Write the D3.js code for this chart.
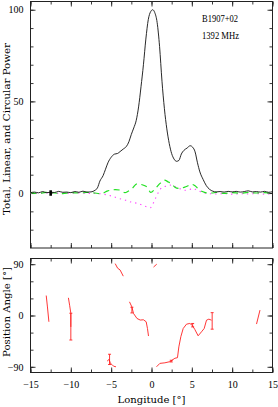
<!DOCTYPE html>
<html><head><meta charset="utf-8">
<script src="https://cdn.jsdelivr.net/npm/d3@7"></script>
<style>body{margin:0;background:#fff}svg{display:block}</style>
</head><body>
<script>
// ---- data ----
const pulsarName = "B1907+02";
const frequencyLabel = "1392 MHz";
const xLabel = "Longitude [°]";
const yLabelTop = "Total, Linear, and Circular Power";
const yLabelBottom = "Position Angle [°]";
const xTicks = [-15, -10, -5, 0, 5, 10, 15];
const yTicksTop = [0, 50, 100];
const yTicksBottom = [-90, 0, 90];

// total intensity [longitude, value]
const totalI = [[-15,0.2],[-14.5,0.5],[-14,0.1],[-13.5,0.8],[-13,0.2],[-12.5,0.4],[-12,0.3],[-11.5,0.9],[-11,0.4],[-10.5,0.5],[-10,0.2],[-9.5,0.8],[-9,0.4],[-8.5,1.0],[-8,0.5],[-7.5,0.6],[-7,1.5],[-6.7,2.8],[-6.4,6.5],[-6,9.5],[-5.7,13],[-5.4,16.5],[-5,19.5],[-4.6,21.2],[-4.2,21.6],[-3.9,22.6],[-3.5,24],[-3.1,25.5],[-2.8,28],[-2.5,32],[-2.2,35.5],[-1.9,39.5],[-1.6,47],[-1.3,58],[-1,70],[-0.7,84],[-0.4,94.6],[-0.1,99],[0.15,100],[0.4,98.5],[0.7,93],[1,80],[1.3,61],[1.6,46],[1.9,35],[2.2,27],[2.5,21.5],[2.8,18.5],[3.1,17.3],[3.4,17.8],[3.7,21.3],[4,23.2],[4.4,24.5],[4.8,25.8],[5.1,25],[5.4,22.5],[5.7,16.5],[6,11.5],[6.4,7.4],[6.8,4.0],[7.2,2.0],[7.6,1.0],[8,0.6],[8.5,0.8],[9,0.5],[9.5,0.9],[10,0.6],[10.5,0.9],[11,0.5],[11.5,0.8],[12,1.2],[12.5,0.6],[13,0.8],[13.5,0.5],[14,0.9],[14.5,0.4],[15,0.7]];

// linear polarization
const linearL = [[-15,0.2],[-14,-0.2],[-13,0.3],[-12,0],[-11,-0.3],[-10,0.2],[-9,0],[-8,0.3],[-7,0],[-6.5,-0.3],[-6,0],[-5.5,1.0],[-5,1.6],[-4.5,1.8],[-3.9,1.6],[-3.3,0.2],[-2.9,1.0],[-2.4,2.5],[-1.8,5.0],[-1.4,4.8],[-0.9,4.1],[-0.5,3.0],[-0.1,0.3],[0.5,2.6],[1.1,5.4],[1.6,7.0],[2.1,6.0],[2.5,5.0],[2.9,3.2],[3.4,2.5],[3.9,2.9],[4.4,3.7],[5,4.7],[5.4,4.0],[5.8,2.2],[6.3,0.8],[6.8,0.1],[7.5,0],[8,0.3],[9,-0.2],[10,0.2],[11,-0.1],[12,0.3],[13,0],[14,0.2],[15,-0.2]];

// circular polarization
const circularV = [[-15,0],[-14,-0.2],[-13,0.1],[-12,-0.3],[-11,0],[-10,-0.2],[-9,0.1],[-8,-0.3],[-7,-0.2],[-6,-0.6],[-5,-1.6],[-4.3,-2.6],[-3.7,-3.4],[-3,-4.2],[-2.4,-5.1],[-1.8,-5.6],[-1.2,-6.5],[-0.6,-7.5],[-0.15,-8.0],[0.25,-5.3],[0.5,-2.9],[0.9,0.7],[1.3,3.1],[1.9,3.8],[2.5,4.4],[2.9,3.5],[3.5,2.4],[4.1,1.5],[4.6,1.8],[5.2,2.5],[5.6,1.6],[6,0.9],[6.5,0.2],[7,-0.3],[8,-0.5],[9,-0.3],[10,-0.6],[11,-0.4],[12,-0.5],[13,-0.3],[14,-0.6],[15,-0.4]];

// off-pulse error bar [longitude, value, half-height]
const offPulseErr = [[-12.5, 0, 1.5]];

// position angle segments
const paSegments = [
  [[-13.05,35],[-12.9,15],[-12.72,-11]],
  [[-10.3,31],[-10.15,18],[-10.0,4],[-10.0,-20]],
  [[-5.5,-80],[-5.25,-77],[-5.1,-84],[-4.9,-86],[-4.7,-89],[-4.4,-90]],
  [[-4.5,91],[-4.2,83],[-3.9,80],[-3.5,69]],
  [[-2.73,24],[-2.43,15],[-2.23,3.6],[-1.8,-5.2],[-1.4,-8],[-1.0,-7.5],[-0.66,-11],[-0.5,-22.7],[-0.37,-36]],
  [[0.25,85],[0.65,90]],
  [[0.62,-90],[1.04,-84],[1.66,-83],[2.28,-81],[2.9,-75],[3.22,-74],[3.39,-55],[3.64,-37],[3.93,-22.8],[4.34,-15.2],[4.75,-14],[5.04,-17],[5.37,-24.5],[5.78,-35.6],[6.2,-28.6],[6.53,-22.8],[6.82,-8.2],[7.11,-6.4],[7.44,-8.2]],
  [[13.02,-15],[13.45,9.5]]
];
// position angle error bars [longitude, PA, half-height]
const paErrors = [[-10.0,-19.5,23.5],[-5.2,-77,9],[-2.43,9.5,5],[2.45,-80,1.5],[5.1,-17,3],[7.52,-9.5,14.5]];

// ---- layout ----
const W = 278, H = 407;
const left = 30.5, right = 272.5;
const topY0 = 1.5, topY1 = 248;
const botY0 = 258.5, botY1 = 372.5;
const serif = "'DejaVu Serif', serif";
const tickFont = "'Liberation Serif', serif";
const frameColor = "#222";

const svg = d3.select("body").append("svg").attr("width", W).attr("height", H);
svg.append("rect").attr("width", W).attr("height", H).attr("fill", "#fff");

const x = d3.scaleLinear().domain([-15, 15]).range([left, right]);
const yTop = d3.scaleLinear().domain([-30, 104.5]).range([topY1, topY0]);
const yBot = d3.scaleLinear().domain([-100, 100]).range([botY1, botY0]);

function styleAxis(g) {
  g.select(".domain").remove();
  g.selectAll(".tick line").attr("stroke", frameColor).attr("stroke-width", 0.9);
  g.selectAll(".tick text").attr("font-family", tickFont).attr("font-size", 10).attr("fill", "#000");
}
const minorX = d3.range(-15, 15.01, 2.5);
function panelAxes(y, y0, y1, yMajor, yMinor, showX) {
  const gx1 = svg.append("g").attr("transform", `translate(0,${y1})`)
    .call(d3.axisBottom(x).tickValues(minorX).tickSize(-3).tickFormat(""));
  styleAxis(gx1);
  const gx1m = svg.append("g").attr("transform", `translate(0,${y1})`)
    .call(d3.axisBottom(x).tickValues(xTicks).tickSize(-5).tickPadding(8).tickFormat(showX ? d3.format("d") : ""));
  styleAxis(gx1m);
  const gx0 = svg.append("g").attr("transform", `translate(0,${y0})`)
    .call(d3.axisTop(x).tickValues(minorX).tickSize(-3).tickFormat(""));
  styleAxis(gx0);
  const gx0m = svg.append("g").attr("transform", `translate(0,${y0})`)
    .call(d3.axisTop(x).tickValues(xTicks).tickSize(-5).tickFormat(""));
  styleAxis(gx0m);
  const gyl = svg.append("g").attr("transform", `translate(${left},0)`)
    .call(d3.axisLeft(y).tickValues(yMinor).tickSize(-3).tickFormat(""));
  styleAxis(gyl);
  const gylm = svg.append("g").attr("transform", `translate(${left},0)`)
    .call(d3.axisLeft(y).tickValues(yMajor).tickSize(-5).tickPadding(7).tickFormat(d3.format("d")));
  styleAxis(gylm);
  const gyr = svg.append("g").attr("transform", `translate(${right},0)`)
    .call(d3.axisRight(y).tickValues(yMinor).tickSize(-3).tickFormat(""));
  styleAxis(gyr);
  const gyrm = svg.append("g").attr("transform", `translate(${right},0)`)
    .call(d3.axisRight(y).tickValues(yMajor).tickSize(-5).tickFormat(""));
  styleAxis(gyrm);
  svg.append("rect").attr("x", left).attr("y", y0).attr("width", right - left).attr("height", y1 - y0)
    .attr("fill", "none").attr("stroke", frameColor).attr("stroke-width", 1);
}

panelAxes(yTop, topY0, topY1, yTicksTop, d3.range(-20, 101, 10), false);
panelAxes(yBot, botY0, botY1, yTicksBottom, d3.range(-90, 91, 30), true);

// ---- top panel curves ----
const lineTop = d3.line().x(d => x(d[0])).y(d => yTop(d[1])).curve(d3.curveMonotoneX);
svg.append("path").datum(circularV).attr("d", lineTop).attr("fill", "none")
  .attr("stroke", "#ff44ff").attr("stroke-width", 1.1).attr("stroke-dasharray", "1.3,4");
svg.append("path").datum(linearL).attr("d", lineTop).attr("fill", "none")
  .attr("stroke", "#22e022").attr("stroke-width", 1.2).attr("stroke-dasharray", "6,4.5");
svg.append("path").datum(totalI).attr("d", lineTop).attr("fill", "none")
  .attr("stroke", "#111").attr("stroke-width", 0.9);
svg.selectAll(".offerr").data(offPulseErr).enter().append("line")
  .attr("x1", d => x(d[0])).attr("x2", d => x(d[0]))
  .attr("y1", d => yTop(d[1] - d[2])).attr("y2", d => yTop(d[1] + d[2]))
  .attr("stroke", "#000").attr("stroke-width", 2.6);

// ---- bottom panel: position angle ----
const lineBot = d3.line().x(d => x(d[0])).y(d => yBot(d[1]));
svg.selectAll(".paseg").data(paSegments).enter().append("path")
  .attr("d", lineBot).attr("fill", "none").attr("stroke", "#ff2020").attr("stroke-width", 0.9);
const eb = svg.selectAll(".paerr").data(paErrors).enter().append("g").attr("stroke", "#ff2020").attr("stroke-width", 0.9);
eb.append("line").attr("x1", d => x(d[0])).attr("x2", d => x(d[0]))
  .attr("y1", d => yBot(d[1] - d[2])).attr("y2", d => yBot(d[1] + d[2]));
eb.append("line").attr("x1", d => x(d[0]) - 1.5).attr("x2", d => x(d[0]) + 1.5)
  .attr("y1", d => yBot(d[1] - d[2])).attr("y2", d => yBot(d[1] - d[2]));
eb.append("line").attr("x1", d => x(d[0]) - 1.5).attr("x2", d => x(d[0]) + 1.5)
  .attr("y1", d => yBot(d[1] + d[2])).attr("y2", d => yBot(d[1] + d[2]));

// ---- text ----
svg.append("text").attr("x", 202).attr("y", 22).attr("font-family", tickFont).attr("font-size", 10)
  .attr("textLength", 36).attr("lengthAdjust", "spacingAndGlyphs").text(pulsarName);
svg.append("text").attr("x", 202).attr("y", 39).attr("font-family", tickFont).attr("font-size", 10)
  .attr("textLength", 37).attr("lengthAdjust", "spacingAndGlyphs").text(frequencyLabel);
svg.append("text").attr("x", (left + right) / 2).attr("y", 403).attr("text-anchor", "middle")
  .attr("font-family", serif).attr("font-size", 9.5)
  .attr("textLength", 68).attr("lengthAdjust", "spacingAndGlyphs").text(xLabel);
svg.append("text").attr("transform", `translate(10,129) rotate(-90)`).attr("text-anchor", "middle")
  .attr("font-family", serif).attr("font-size", 9.5)
  .attr("textLength", 172).attr("lengthAdjust", "spacingAndGlyphs").text(yLabelTop);
svg.append("text").attr("transform", `translate(10,312) rotate(-90)`).attr("text-anchor", "middle")
  .attr("font-family", serif).attr("font-size", 9.5)
  .attr("textLength", 90).attr("lengthAdjust", "spacingAndGlyphs").text(yLabelBottom);
</script>
</body></html>
